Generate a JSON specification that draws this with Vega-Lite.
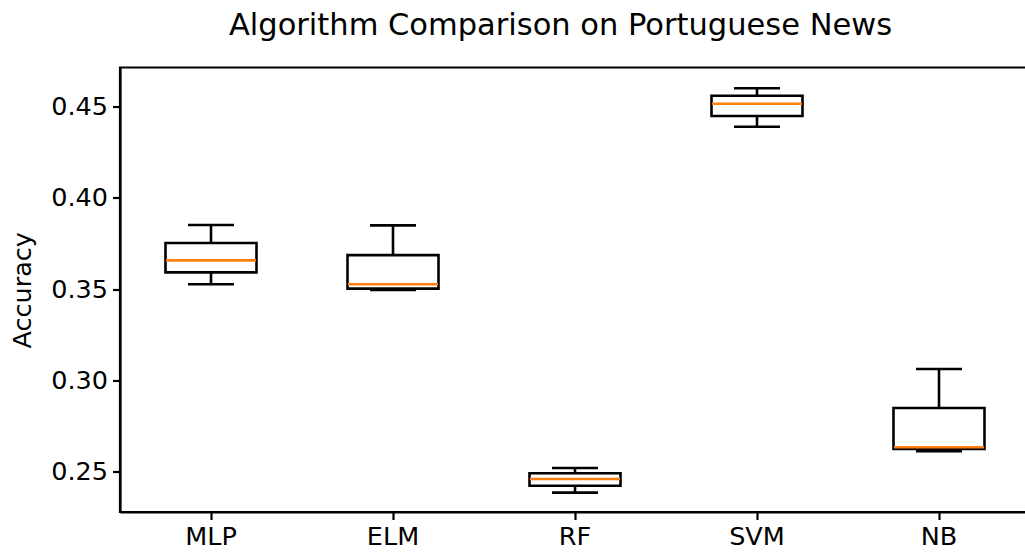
{
  "$schema": "https://vega.github.io/schema/vega-lite/v6.json",
  "autosize": "none",
  "width": 910,
  "height": 444.5,
  "padding": {"left": 120, "top": 67.5, "right": 0, "bottom": 44},
  "background": "white",
  "title": {"text": "Algorithm Comparison on Portuguese News", "fontSize": 30.5, "font": "DejaVu Sans", "fontWeight": "normal", "color": "black", "offset": 26, "anchor": "middle", "dx": -14.5},
  "config": {
    "view": {"stroke": "black", "strokeWidth": 2.2},
    "axis": {"labelFont": "DejaVu Sans", "titleFont": "DejaVu Sans", "labelFontSize": 25.5, "titleFontSize": 25.5, "titleFontWeight": "normal", "labelColor": "black", "titleColor": "black", "tickColor": "black", "domainColor": "black", "tickSize": 7.5, "tickWidth": 2.2, "domainWidth": 2.2, "grid": false, "labelPadding": 5}
  },
  "data": {"values": [
    {"algo": "MLP", "lo": 0.3526, "q1": 0.3591, "med": 0.3657, "q3": 0.3752, "hi": 0.3851},
    {"algo": "ELM", "lo": 0.3495, "q1": 0.3502, "med": 0.3526, "q3": 0.3686, "hi": 0.3849},
    {"algo": "RF", "lo": 0.2384, "q1": 0.2422, "med": 0.2459, "q3": 0.249, "hi": 0.2519},
    {"algo": "SVM", "lo": 0.4389, "q1": 0.4448, "med": 0.4515, "q3": 0.4559, "hi": 0.46},
    {"algo": "NB", "lo": 0.2611, "q1": 0.2624, "med": 0.2633, "q3": 0.2848, "hi": 0.3062}
  ]},
  "encoding": {
    "x": {"field": "algo", "type": "nominal", "sort": null, "scale": {"paddingInner": 0, "paddingOuter": 0}, "axis": {"title": null, "labelAngle": 0}},
    "y": {"type": "quantitative", "scale": {"domain": [0.2278, 0.4714], "nice": false, "zero": false}, "axis": {"title": "Accuracy", "values": [0.25, 0.3, 0.35, 0.4, 0.45], "format": ".2f", "titlePadding": 15}}
  },
  "layer": [
    {"mark": {"type": "rule", "color": "black", "strokeWidth": 2.6, "opacity": 1}, "encoding": {"y": {"field": "lo", "type": "quantitative"}, "y2": {"field": "q1"}}},
    {"mark": {"type": "rule", "color": "black", "strokeWidth": 2.6, "opacity": 1}, "encoding": {"y": {"field": "q3", "type": "quantitative"}, "y2": {"field": "hi"}}},
    {"mark": {"type": "bar", "fill": "white", "stroke": "black", "strokeWidth": 2.6, "opacity": 1, "width": {"band": 0.5}}, "encoding": {"y": {"field": "q1", "type": "quantitative"}, "y2": {"field": "q3"}}},
    {"mark": {"type": "tick", "color": "black", "thickness": 2.6, "size": 46, "opacity": 1}, "encoding": {"y": {"field": "lo", "type": "quantitative"}}},
    {"mark": {"type": "tick", "color": "black", "thickness": 2.6, "size": 46, "opacity": 1}, "encoding": {"y": {"field": "hi", "type": "quantitative"}}},
    {"mark": {"type": "tick", "color": "#ff7f0e", "thickness": 2.6, "size": 90, "opacity": 1}, "encoding": {"y": {"field": "med", "type": "quantitative"}}}
  ]
}
